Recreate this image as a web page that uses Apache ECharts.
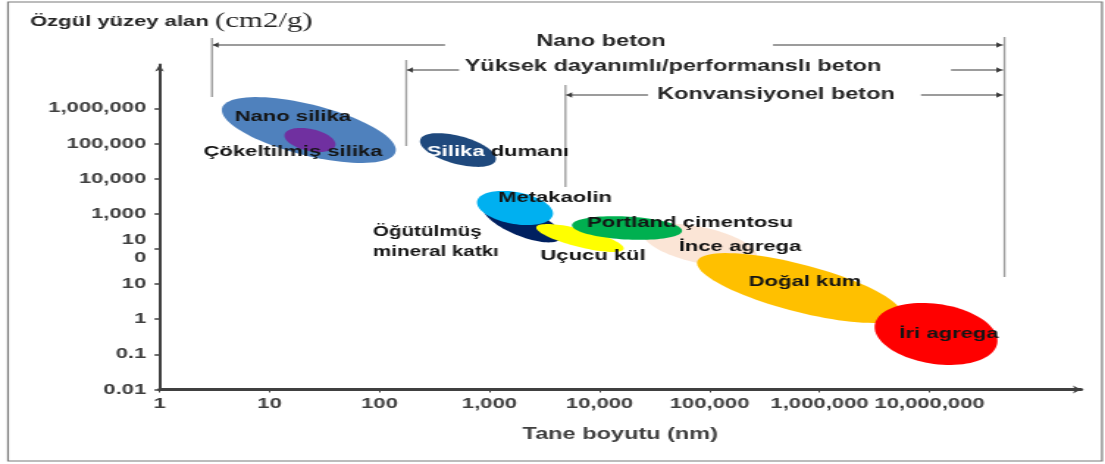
<!DOCTYPE html>
<html>
<head>
<meta charset="utf-8">
<title>Tane boyutu - özgül yüzey alan</title>
<script src="https://cdn.jsdelivr.net/npm/echarts@6/dist/echarts.min.js"></script>
<style>
  html, body { margin: 0; padding: 0; background: #fff; overflow: hidden; }
  /* the source figure is stretched sideways, so the chart is drawn narrow and widened */
  #main { width: 752px; height: 464px; transform: scaleX(1.46941); transform-origin: 0 0; }
</style>
</head>
<body>
<div id="main"></div>
<script>
const SX = 1105 / 752;

// axis ticks, one per decade
const xTickValues = [1, 10, 100, 1e3, 1e4, 1e5, 1e6, 1e7];
const xTickText = ['1', '10', '100', '1,000', '10,000', '100,000', '1,000,000', '10,000,000'];
const yTickValues = [0.01, 0.1, 1, 10, 100, 1e3, 1e4, 1e5, 1e6];
const yTickText = ['0.01', '0.1', '1', '10', '10\n0', '1,000', '10,000', '100,000', '1,000,000'];

// materials: particle size range (nm) and specific surface range (cm2/g)
const materials = ['Nano silika', 'Çökeltilmiş silika', 'Silika dumanı', 'Öğütülmüş\nmineral katkı',
  'Metakaolin', 'Uçucu kül', 'İnce agrega', 'Portland çimentosu', 'Doğal kum', 'İri agrega'];
const sizeFrom = [3.7, 13.7, 234, 875, 771, 2660, 25000, 5620, 77300, 3.18e6];
const sizeTo = [140, 39.7, 1140, 4460, 3770, 16600, 269000, 56200, 5.48e6, 4.13e7];
const areaFrom = [1.0e6, 179000, 126000, 1630, 2260, 417, 285, 475, 43.2, 0.69];
const areaTo = [58000, 88000, 33600, 208, 940, 100, 58.5, 325, 1.38, 0.21];

// concrete types: particle size range (nm)
const concreteTypes = ['Nano beton', 'Yüksek dayanımlı/performanslı beton', 'Konvansiyonel beton'];
const concreteFrom = [3, 175, 4900];
const concreteTo = [4.8e7, 4.8e7, 4.8e7];

// looks (half = half thickness of the blob, dx/dy = label offset, page px)
const blobStyle = [
  { color: '#4F81BD', half: 25.5, dx: -16, dy: -13 },
  { color: '#7030A0', half: 11, dx: -17, dy: 12 },
  { color: '#1F497D', half: 14, dx: -31, dy: 2, align: 'left', split: true },
  { color: '#002060', half: 14, dx: -149, dy: 20, align: 'left', size: 14 },
  { color: '#00B0F0', half: 16, dx: 40, dy: -10 },
  { color: '#FFFF00', half: 9, dx: 13, dy: 18 },
  { color: '#FBE5D6', half: 18, dx: 40, dy: 2 },
  { color: '#00B050', half: 11.5, dx: 63, dy: -5 },
  { color: '#FFC000', half: 23.7, dx: 6, dy: -6 },
  { color: '#FF0000', half: 30, dx: 13, dy: 0 }
];
const bracketLayout = [
  { y: 45, top: 38, bottom: 97, textX: 601, textY: 42, gapL: 445, gapR: 773 },
  { y: 70, top: 60, bottom: 146, textX: 673, textY: 67, gapL: 459, gapR: 951 },
  { y: 95, top: 85, bottom: 187, textX: 776, textY: 95, gapL: 648, gapR: 921 }
];
const rightEdge = { top: 37, bottom: 277 };

const FONT = 'Liberation Sans';
const AXIS = '#404040';

function tickFormatter(values, texts) {
  return function (v) {
    for (let i = 0; i < values.length; i++) {
      if (Math.abs(Math.log10(v) - Math.log10(values[i])) < 1e-6) return texts[i];
    }
    return '';
  };
}

function renderBlob(params, api) {
  const i = params.dataIndex;
  const st = blobStyle[i];
  const p1 = api.coord([api.value(0), api.value(1)]);
  const p2 = api.coord([api.value(2), api.value(3)]);
  // work in page space (after the sideways stretch)
  const x1 = p1[0] * SX, x2 = p2[0] * SX;
  const dx = x2 - x1, dy = p2[1] - p1[1];
  const len = Math.hypot(dx, dy);
  const ux = dx / len, uy = dy / len;
  const a = len / 2, b = st.half;
  const cx = (x1 + x2) / 2, cy = (p1[1] + p2[1]) / 2;
  const pts = [];
  for (let k = 0; k < 90; k++) {
    const t = k / 90 * Math.PI * 2;
    const px = cx + a * Math.cos(t) * ux - b * Math.sin(t) * uy;
    const py = cy + a * Math.cos(t) * uy + b * Math.sin(t) * ux;
    pts.push([px / SX, py]);
  }
  const name = materials[i];
  let text = name;
  if (st.split) {
    const parts = name.split(' ');
    text = '{w|' + parts[0] + '} {d|' + parts.slice(1).join(' ') + '}';
  }
  const fs = st.size || 15;
  return {
    type: 'group',
    children: [
      { type: 'polygon', z2: i, shape: { points: pts }, style: { fill: st.color } },
      {
        type: 'text', z2: 100, x: (cx + st.dx) / SX, y: cy + st.dy,
        style: {
          text: text, align: st.align || 'center', verticalAlign: 'middle',
          fill: '#141414', fontSize: fs, fontWeight: 'bold', fontFamily: FONT, lineHeight: 20,
          rich: {
            w: { fill: '#ffffff', fontSize: fs, fontWeight: 'bold', fontFamily: FONT },
            d: { fill: '#141414', fontSize: fs, fontWeight: 'bold', fontFamily: FONT }
          }
        }
      }
    ]
  };
}

function renderBracket(params, api) {
  const i = params.dataIndex;
  const L = bracketLayout[i];
  const xa = api.coord([api.value(0), 1])[0];
  const xb = api.coord([api.value(1), 1])[0];
  const line = (x1, y1, x2, y2, w) => ({
    type: 'line', shape: { x1: x1, y1: y1, x2: x2, y2: y2 },
    style: { stroke: '#9c9c9c', lineWidth: w }
  });
  const kids = [
    line(xa, L.top, xa, L.bottom, 2 / SX),
    line(xa, L.y, L.gapL / SX, L.y, 2),
    line(L.gapR / SX, L.y, xb - 1, L.y, 2),
    { type: 'polygon', shape: { points: [[xa + 0.6, L.y], [xa + 4.5, L.y - 2.8], [xa + 4.5, L.y + 2.8]] }, style: { fill: '#3a3a3a' } },
    { type: 'polygon', shape: { points: [[xb - 1.5, L.y], [xb - 5.5, L.y - 2.8], [xb - 5.5, L.y + 2.8]] }, style: { fill: '#3a3a3a' } },
    {
      type: 'text', x: L.textX / SX, y: L.textY,
      style: { text: concreteTypes[i], align: 'center', verticalAlign: 'middle', fill: '#262626', fontSize: 16, fontWeight: 'bold', fontFamily: FONT }
    }
  ];
  if (i === 0) kids.push(line(xb, rightEdge.top, xb, rightEdge.bottom, 2 / SX));
  return { type: 'group', children: kids };
}

const chart = echarts.init(document.getElementById('main'));
chart.setOption({
  animation: false,
  grid: { left: 159.5 / SX, right: (1105 - 1081) / SX, top: 64.5, bottom: 74.5, outerBoundsMode: 'none' },
  graphic: [
    {
      type: 'rect', silent: true,
      shape: { x: 8 / SX, y: 2, width: (1102 - 8) / SX, height: 459 },
      style: { fill: 'none', stroke: '#7a7a7a', lineWidth: 1.2 }
    },
    {
      type: 'text', left: 30 / SX, top: 11,
      style: {
        text: '{a|Özgül yüzey alan }{b|(cm2/g)}',
        rich: {
          a: { fontSize: 15, fontWeight: 'bold', fontFamily: FONT, fill: '#262626' },
          b: { fontSize: 21, fontFamily: 'Liberation Serif', fill: '#262626' }
        }
      }
    }
  ],
  xAxis: {
    type: 'log', logBase: 10, min: 1, max: Math.pow(10, 8.377), interval: 1,
    name: 'Tane boyutu (nm)', nameLocation: 'middle', nameGap: 37,
    nameTextStyle: { fontSize: 16, fontWeight: 'bold', fontFamily: FONT, color: AXIS },
    splitLine: { show: false },
    axisLine: { symbol: ['none', 'arrow'], symbolSize: [6, 5.5], lineStyle: { color: AXIS, width: 3 } },
    axisTick: { length: 3, customValues: xTickValues, lineStyle: { color: AXIS, width: 1.5 / SX } },
    axisLabel: {
      margin: 7, customValues: xTickValues, fontSize: 15, fontWeight: 'bold', fontFamily: FONT, color: AXIS,
      formatter: tickFormatter(xTickValues, xTickText)
    }
  },
  yAxis: {
    type: 'log', logBase: 10, min: 0.01, max: Math.pow(10, 7.246), interval: 1,
    splitLine: { show: false },
    axisLine: { symbol: ['none', 'arrow'], symbolSize: [4.5, 7], lineStyle: { color: AXIS, width: 2 } },
    axisTick: { length: 3.4, customValues: yTickValues, lineStyle: { color: AXIS, width: 1.5 } },
    axisLabel: {
      margin: 9, customValues: yTickValues, fontSize: 15, fontWeight: 'bold', fontFamily: FONT, color: AXIS, lineHeight: 18,
      formatter: tickFormatter(yTickValues, yTickText)
    }
  },
  series: [
    {
      type: 'custom', silent: true, clip: false, renderItem: renderBlob,
      data: materials.map((m, i) => [sizeFrom[i], areaFrom[i], sizeTo[i], areaTo[i]])
    },
    {
      type: 'custom', silent: true, clip: false, renderItem: renderBracket,
      data: concreteTypes.map((c, i) => [concreteFrom[i], concreteTo[i]])
    }
  ]
});
</script>
</body>
</html>
